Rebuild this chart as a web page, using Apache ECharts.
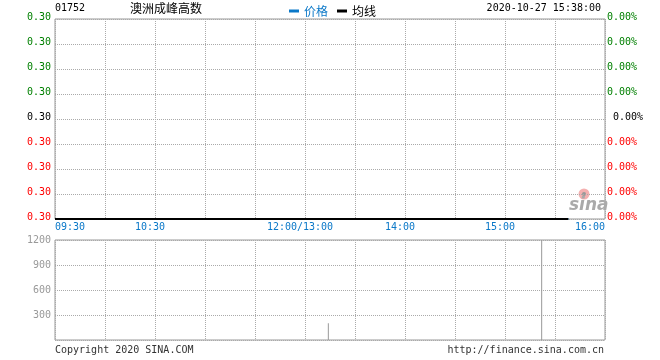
<!DOCTYPE html>
<html><head><meta charset="utf-8">
<script src="https://cdn.jsdelivr.net/npm/echarts@6/dist/echarts.min.js"></script>
<style>html,body{margin:0;padding:0;background:#fff}#c{width:660px;height:360px}</style>
</head><body><div id="c"></div>
<script>
// ---- data ----
var stockCode = '01752';
var stockName = '澳洲成峰高数';
var dateTime = '2020-10-27 15:38:00';
var timeTickMinutes = [0, 60, 150, 210, 270, 330];
var timeTickLabels = ['09:30', '10:30', '12:00/13:00', '14:00', '15:00', '16:00'];
var priceTickLabels = ['0.30','0.30','0.30','0.30','0.30','0.30','0.30','0.30','0.30']; // bottom -> top
var pctTickLabels = ['0.00%','0.00%','0.00%','0.00%',' 0.00%','0.00%','0.00%','0.00%','0.00%']; // bottom -> top
var volTickLabels = ['', '300', '600', '900', '1200'];
var priceMinutes = [0, 308];
var priceValues = [0.30, 0.30];
var avgValues = [0.30, 0.30];
var volMinutes = [164, 292];
var volValues = [200, 1200];

var FONT = 'DejaVu Sans Mono';
var BLUE = '#0a78c8';
function zip(a, b) { return a.map(function (v, i) { return [v, b[i]]; }); }
function tickStyle(i) { return i < 4 ? 'r' : (i === 4 ? 'k' : 'g'); }

var chart = echarts.init(document.getElementById('c'), null, {renderer: 'canvas'});
var dotted = {show: true, lineStyle: {color: '#aaa', type: [1, 1], width: 1}};
chart.setOption({
  animation: false,
  grid: [
    {left: 55, right: 55, top: 19, height: 200, show: true, borderColor: '#999', borderWidth: 1},
    {left: 55, right: 55, top: 240, height: 100, show: true, borderColor: '#999', borderWidth: 1}
  ],
  legend: {
    left: 284, top: 0, icon: 'rect', itemWidth: 10, itemHeight: 3, itemGap: 9,
    data: [
      {name: '价格', textStyle: {color: BLUE}},
      {name: '均线', textStyle: {color: '#000'}}
    ],
    textStyle: {fontSize: 12, fontFamily: 'Noto Sans CJK SC'}
  },
  xAxis: [
    {type: 'value', gridIndex: 0, min: 0, max: 330, interval: 30,
     axisLine: {show: false}, axisTick: {show: false}, splitLine: dotted,
     axisLabel: {
       margin: 3, fontFamily: FONT, fontSize: 10, color: BLUE,
       alignMinLabel: 'left', alignMaxLabel: 'right',
       formatter: function (v) {
         var i = timeTickMinutes.indexOf(v);
         if (i < 0) return '';
         if (i === 0 || i === timeTickMinutes.length - 1) return timeTickLabels[i];
         return '{c|' + timeTickLabels[i] + '}';
       },
       rich: {c: {fontFamily: FONT, fontSize: 10, color: BLUE, padding: [0, 10, 0, 0]}}
     }},
    {type: 'value', gridIndex: 1, min: 0, max: 330, interval: 30,
     axisLine: {show: false}, axisTick: {show: false}, splitLine: dotted, axisLabel: {show: false}}
  ],
  yAxis: [
    {type: 'value', gridIndex: 0, min: 0.30, max: 0.304, interval: 0.0005, position: 'left',
     axisLine: {show: false}, axisTick: {show: false}, splitLine: dotted,
     axisLabel: {margin: 4, fontFamily: FONT, fontSize: 10, padding: [0, 0, 4, 0],
       formatter: function (v, i) { return '{' + tickStyle(i) + '|' + priceTickLabels[i] + '}'; },
       rich: {r: {color: '#f00', fontFamily: FONT, fontSize: 10}, k: {color: '#000', fontFamily: FONT, fontSize: 10}, g: {color: '#008000', fontFamily: FONT, fontSize: 10}}}},
    {type: 'value', gridIndex: 0, min: 0.30, max: 0.304, interval: 0.0005, position: 'right',
     axisLine: {show: false}, axisTick: {show: false}, splitLine: {show: false},
     axisLabel: {margin: 2, fontFamily: FONT, fontSize: 10, padding: [0, 0, 4, 0],
       formatter: function (v, i) { return '{' + tickStyle(i) + '|' + pctTickLabels[i] + '}'; },
       rich: {r: {color: '#f00', fontFamily: FONT, fontSize: 10}, k: {color: '#000', fontFamily: FONT, fontSize: 10}, g: {color: '#008000', fontFamily: FONT, fontSize: 10}}}},
    {type: 'value', gridIndex: 1, min: 0, max: 1200, interval: 300,
     axisLine: {show: false}, axisTick: {show: false}, splitLine: dotted,
     axisLabel: {margin: 4, fontFamily: FONT, fontSize: 10, color: '#999', padding: [0, 0, 4, 0],
       formatter: function (v, i) { return volTickLabels[i] || ''; }}}
  ],
  series: [
    {name: '价格', type: 'line', xAxisIndex: 0, yAxisIndex: 0, data: zip(priceMinutes, priceValues),
     showSymbol: false, symbol: 'none', lineStyle: {color: BLUE, width: 2}, itemStyle: {color: BLUE}, z: 3},
    {name: '均线', type: 'line', xAxisIndex: 0, yAxisIndex: 0, data: zip(priceMinutes, avgValues),
     showSymbol: false, symbol: 'none', lineStyle: {color: '#000', width: 2}, itemStyle: {color: '#000'}, z: 4},
    {name: '成交量', type: 'bar', xAxisIndex: 1, yAxisIndex: 2, data: zip(volMinutes, volValues),
     barWidth: 1, itemStyle: {color: '#999'}}
  ],
  graphic: [
    {type: 'text', left: 55, top: 3, style: {text: stockCode, font: '10px ' + FONT, fill: '#000'}},
    {type: 'text', left: 130, top: 2, style: {text: stockName, font: '12px "Noto Sans CJK SC"', fill: '#000'}},
    {type: 'text', right: 59, top: 3, style: {text: dateTime, font: '10px ' + FONT, fill: '#000'}},
    {type: 'text', left: 55, top: 345, style: {text: 'Copyright 2020 SINA.COM', font: '10px ' + FONT, fill: '#333'}},
    {type: 'text', right: 56, top: 345, style: {text: 'http://finance.sina.com.cn', font: '10px ' + FONT, fill: '#333'}},
    {type: 'circle', shape: {cx: 584, cy: 194, r: 5.5}, style: {fill: '#f4b0b0'}},
    {type: 'circle', shape: {cx: 584, cy: 194, r: 2}, style: {fill: '#999'}},
    {type: 'text', left: 569, top: 197, style: {text: 'sina', font: 'italic bold 17px "DejaVu Sans"', fill: '#aaa'}}
  ]
});
</script></body></html>
